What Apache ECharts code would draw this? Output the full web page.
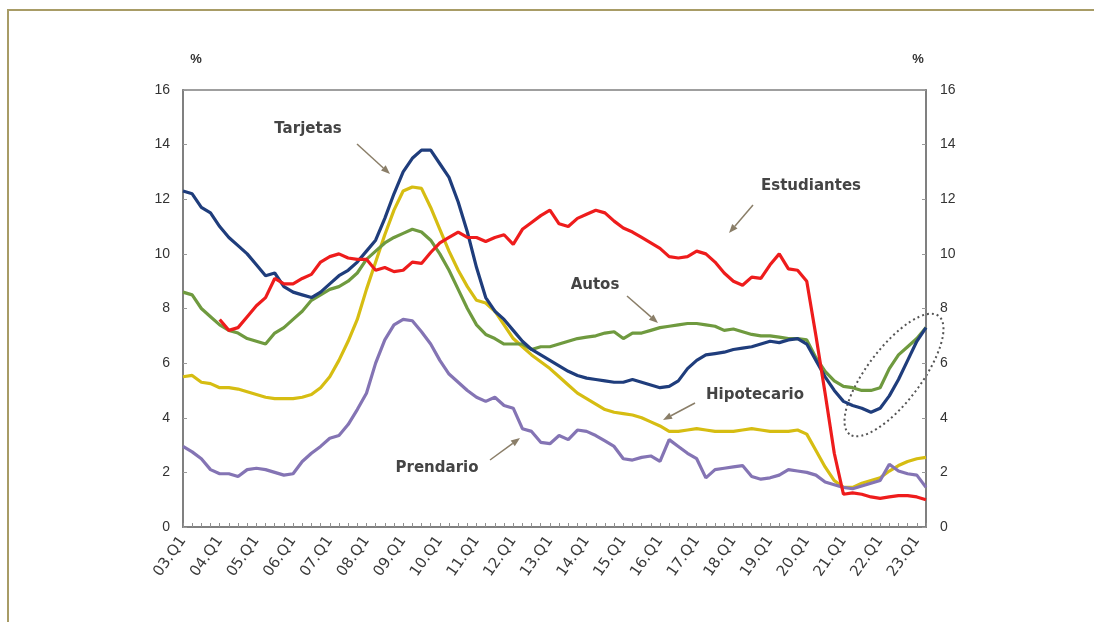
<!DOCTYPE html>
<html>
<head>
<meta charset="utf-8">
<title>Morosidad por tipo de crédito</title>
<script src="https://cdn.jsdelivr.net/npm/echarts@6/dist/echarts.min.js"></script>
<style>
html, body { margin: 0; padding: 0; background: #fff; }
#main { width: 1094px; height: 622px; }
</style>
</head>
<body>
<div id="main"></div>
<script>
/* datos trimestrales 03.Q1 - 23.Q2 */
var years = ['03','04','05','06','07','08','09','10','11','12','13','14','15','16','17','18','19','20','21','22','23'];
var quarters = [];
for (var y = 0; y < years.length; y++) {
  for (var q = 1; q <= 4; q++) {
    if (years[y] === '23' && q > 2) break;
    quarters.push(years[y] + '.Q' + q);
  }
}
var yTicks = [0, 2, 4, 6, 8, 10, 12, 14, 16];

var tarjetas = [12.3,12.2,11.7,11.5,11.0,10.6,10.3,10.0,9.6,9.2,9.3,8.8,8.6,8.5,8.4,8.6,8.9,9.2,9.4,9.7,
  10.1,10.5,11.3,12.2,13.0,13.5,13.8,13.8,13.3,12.8,11.9,10.8,9.5,8.4,7.9,7.6,7.2,6.8,6.5,6.3,
  6.1,5.9,5.7,5.55,5.45,5.4,5.35,5.3,5.3,5.4,5.3,5.2,5.1,5.15,5.35,5.8,6.1,6.3,6.35,6.4,
  6.5,6.55,6.6,6.7,6.8,6.75,6.85,6.9,6.7,6.1,5.5,5.0,4.6,4.45,4.35,4.2,4.35,4.8,5.4,6.1,
  6.8,7.3];
var estudiantes = [null,null,null,null,7.6,7.2,7.3,7.7,8.1,8.4,9.1,8.9,8.9,9.1,9.25,9.7,9.9,10.0,9.85,9.8,
  9.8,9.4,9.5,9.35,9.4,9.7,9.65,10.05,10.4,10.6,10.8,10.6,10.6,10.45,10.6,10.7,10.35,10.9,11.15,11.4,
  11.6,11.1,11.0,11.3,11.45,11.6,11.5,11.2,10.95,10.8,10.6,10.4,10.2,9.9,9.85,9.9,10.1,10.0,9.7,9.3,
  9.0,8.85,9.15,9.1,9.6,10.0,9.45,9.4,9.0,7.0,4.9,2.7,1.2,1.25,1.2,1.1,1.05,1.1,1.15,1.15,
  1.1,1.0];
var autos = [8.6,8.5,8.0,7.7,7.4,7.2,7.1,6.9,6.8,6.7,7.1,7.3,7.6,7.9,8.3,8.5,8.7,8.8,9.0,9.3,
  9.8,10.1,10.4,10.6,10.75,10.9,10.8,10.5,10.0,9.4,8.7,8.0,7.4,7.05,6.9,6.7,6.7,6.7,6.5,6.6,
  6.6,6.7,6.8,6.9,6.95,7.0,7.1,7.15,6.9,7.1,7.1,7.2,7.3,7.35,7.4,7.45,7.45,7.4,7.35,7.2,
  7.25,7.15,7.05,7.0,7.0,6.95,6.9,6.9,6.85,6.2,5.7,5.35,5.15,5.1,5.0,5.0,5.1,5.8,6.3,6.6,
  6.9,7.3];
var hipotecario = [5.5,5.55,5.3,5.25,5.1,5.1,5.05,4.95,4.85,4.75,4.7,4.7,4.7,4.75,4.85,5.1,5.5,6.1,6.8,7.6,
  8.7,9.7,10.7,11.6,12.3,12.45,12.4,11.7,10.9,10.1,9.4,8.8,8.3,8.2,7.9,7.4,6.9,6.6,6.3,6.05,
  5.8,5.5,5.2,4.9,4.7,4.5,4.3,4.2,4.15,4.1,4.0,3.85,3.7,3.5,3.5,3.55,3.6,3.55,3.5,3.5,
  3.5,3.55,3.6,3.55,3.5,3.5,3.5,3.55,3.4,2.8,2.2,1.7,1.45,1.45,1.6,1.7,1.8,2.05,2.25,2.4,
  2.5,2.55];
var prendario = [2.95,2.75,2.5,2.1,1.95,1.95,1.85,2.1,2.15,2.1,2.0,1.9,1.95,2.4,2.7,2.95,3.25,3.35,3.75,4.3,
  4.9,6.0,6.85,7.4,7.6,7.55,7.15,6.7,6.1,5.6,5.3,5.0,4.75,4.6,4.75,4.45,4.35,3.6,3.5,3.1,
  3.05,3.35,3.2,3.55,3.5,3.35,3.15,2.95,2.5,2.45,2.55,2.6,2.4,3.2,2.95,2.7,2.5,1.8,2.1,2.15,
  2.2,2.25,1.85,1.75,1.8,1.9,2.1,2.05,2.0,1.9,1.65,1.55,1.45,1.4,1.5,1.6,1.7,2.3,2.05,1.95,
  1.9,1.45];

var chart = echarts.init(document.getElementById('main'));

//flecha de anotación
var arrowColor = '#8a7e68';
function arrow(x1, y1, x2, y2) {
  var ang = Math.atan2(y2 - y1, x2 - x1);
  var len = 9, w = 3.5;
  var bx = x2 - len * Math.cos(ang), by = y2 - len * Math.sin(ang);
  return [
    { type: 'line', shape: { x1: x1, y1: y1, x2: bx, y2: by }, style: { stroke: arrowColor, lineWidth: 1.5 }, silent: true },
    { type: 'polygon', shape: { points: [[x2, y2], [bx + w * Math.sin(ang), by - w * Math.cos(ang)], [bx - w * Math.sin(ang), by + w * Math.cos(ang)]] },
      style: { fill: arrowColor }, silent: true }
  ];
}
function label(txt, x, y) {
  return { type: 'text', x: x, y: y, silent: true,
    style: { text: txt, fill: '#444', font: 'bold 15px "DejaVu Sans", sans-serif', align: 'center', verticalAlign: 'middle' } };
}

var graphics = [
  // marco
  { type: 'rect', shape: { x: 8, y: 10, width: 1200, height: 700 }, style: { fill: 'none', stroke: '#a89c66', lineWidth: 2 }, silent: true },
  { type: 'text', x: 196, y: 59, style: { text: '%', fill: '#333', font: 'bold 13px "Liberation Sans", Arial', align: 'center', verticalAlign: 'middle' } },
  { type: 'text', x: 918, y: 59, style: { text: '%', fill: '#333', font: 'bold 13px "Liberation Sans", Arial', align: 'center', verticalAlign: 'middle' } },
  label('Tarjetas', 308, 129),
  label('Estudiantes', 811, 186),
  label('Autos', 595, 285),
  label('Hipotecario', 755, 395),
  label('Prendario', 437, 468),
  // elipse punteada
  { type: 'ellipse', x: 894, y: 375, rotation: 53 * Math.PI / 180, silent: true,
    shape: { cx: 0, cy: 0, rx: 74, ry: 27 },
    style: { fill: 'none', stroke: '#555', lineWidth: 2, lineDash: [2, 3] } }
];
graphics = graphics.concat(arrow(357, 144, 390, 174))
  .concat(arrow(753, 205, 729, 233))
  .concat(arrow(627, 296, 658, 323))
  .concat(arrow(695, 403, 663, 420))
  .concat(arrow(490, 460, 520, 438));

function serie(name, data, color) {
  return {
    name: name, type: 'line', data: data, symbol: 'none', smooth: false,
    lineStyle: { color: color, width: 3.2 }, itemStyle: { color: color },
    connectNulls: false
  };
}

var option = {
  backgroundColor: '#fff',
  animation: false,
  textStyle: { fontFamily: '"Liberation Sans", Arial, sans-serif' },
  grid: { left: 183, right: 168, top: 90, bottom: 95, show: true, borderColor: '#808080', borderWidth: 1.5 },
  xAxis: {
    type: 'category', data: quarters, boundaryGap: false,
    axisLine: { lineStyle: { color: '#808080', width: 2 } },
    axisTick: { inside: true, length: 4, interval: 0, lineStyle: { color: '#909090' } },
    axisLabel: { interval: 3, rotate: 55, color: '#3a3a3a', fontSize: 15, margin: 11, fontFamily: '"DejaVu Sans", sans-serif' }
  },
  yAxis: [
    { type: 'value', min: 0, max: 16, interval: 2, position: 'left',
      axisLine: { show: true, lineStyle: { color: '#808080', width: 2 } },
      axisTick: { show: true, inside: true, length: 4, lineStyle: { color: '#999' } },
      axisLabel: { color: '#333', fontSize: 14, margin: 13 }, splitLine: { show: false } },
    { type: 'value', min: 0, max: 16, interval: 2, position: 'right',
      axisLine: { show: true, lineStyle: { color: '#808080', width: 2 } },
      axisTick: { show: true, inside: true, length: 4, lineStyle: { color: '#999' } },
      axisLabel: { color: '#333', fontSize: 14, margin: 14 }, splitLine: { show: false } }
  ],
  series: [
    serie('Hipotecario', hipotecario, '#d6bd12'),
    serie('Prendario', prendario, '#8474b4'),
    serie('Autos', autos, '#6f9a3f'),
    serie('Tarjetas', tarjetas, '#1f3d7c'),
    serie('Estudiantes', estudiantes, '#ee1c1c')
  ],
  graphic: graphics
};
chart.setOption(option);
</script>
</body>
</html>
